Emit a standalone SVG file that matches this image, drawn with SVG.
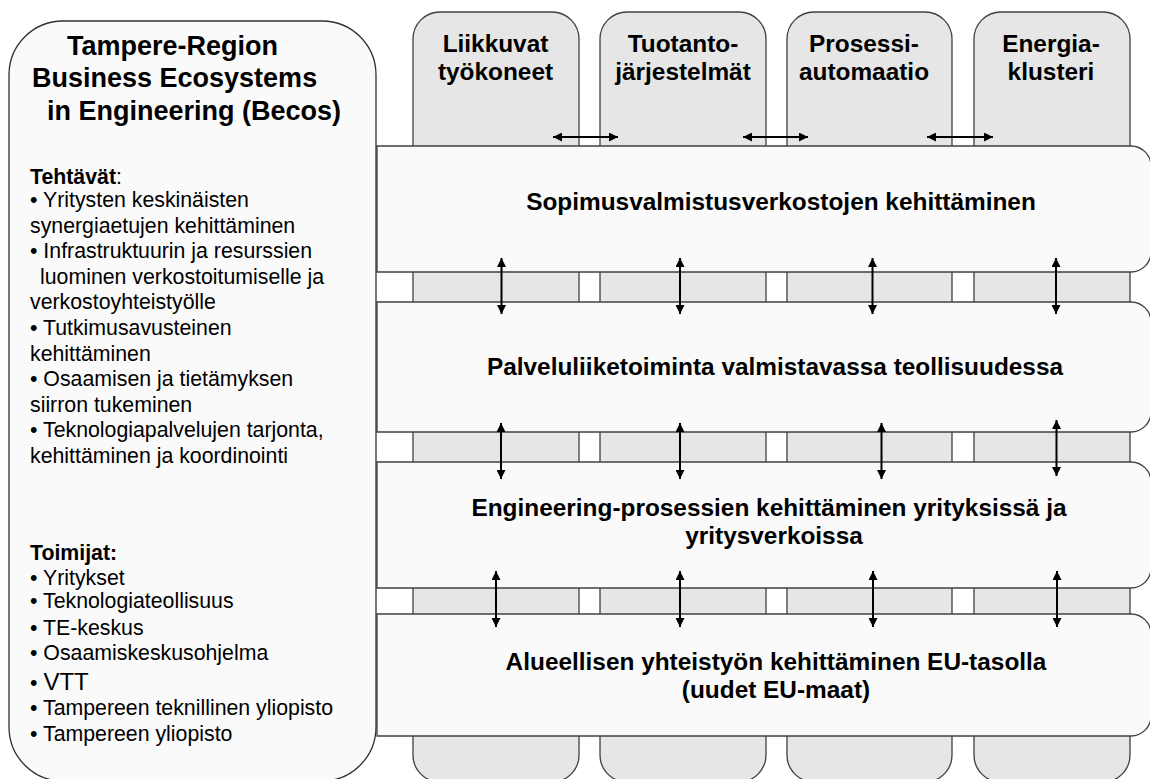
<svg xmlns="http://www.w3.org/2000/svg" width="1150" height="779" viewBox="0 0 1150 779">
<style>
.col{fill:#e6e6e6;stroke:#404040;stroke-width:1.3}
.band{fill:#fafafa;stroke:#404040;stroke-width:1.3}
.lbox{fill:#fafafa;stroke:#303030;stroke-width:1.3}
text{font-family:"Liberation Sans",Arial,sans-serif;fill:#000}
.hd{font-size:24.4px;font-weight:bold;text-anchor:middle}
.bt{font-size:24.4px;font-weight:bold;text-anchor:middle}
.tt{font-size:27px;font-weight:bold}
.lt{font-size:21.3px}
.b{font-weight:bold}
.arr{stroke:#000;stroke-width:2;fill:none;marker-start:url(#ah);marker-end:url(#ah)}
</style>
<defs>
<marker id="ah" viewBox="0 0 10 10" refX="10" refY="5" markerWidth="9" markerHeight="9" markerUnits="userSpaceOnUse" orient="auto-start-reverse">
<path d="M0,0 L10,5 L0,10 z" fill="#000"/>
</marker>
</defs>
<rect width="1150" height="779" fill="#fff"/>
<g id="col-liikkuvat">
<rect class="col" x="413" y="12" width="166" height="770" rx="27"/>
<text class="hd" x="495.5" y="52">Liikkuvat</text>
<text class="hd" x="495.5" y="80">työkoneet</text>
</g>
<g id="col-tuotanto">
<rect class="col" x="600" y="12" width="166" height="770" rx="27"/>
<text class="hd" x="683" y="52">Tuotanto-</text>
<text class="hd" x="683" y="80">järjestelmät</text>
</g>
<g id="col-prosessi">
<rect class="col" x="787" y="12" width="165" height="770" rx="27"/>
<text class="hd" x="864" y="52">Prosessi-</text>
<text class="hd" x="864" y="80">automaatio</text>
</g>
<g id="col-energia">
<rect class="col" x="974" y="12" width="156" height="770" rx="27"/>
<text class="hd" x="1051" y="52">Energia-</text>
<text class="hd" x="1051" y="80">klusteri</text>
</g>
<g id="band-sopimus">
<path class="band" d="M377,146 H1131 A20,20 0 0 1 1151,166 V252 A20,20 0 0 1 1131,272 H377 Z"/>
<text class="bt" x="781" y="210">Sopimusvalmistusverkostojen kehittäminen</text>
</g>
<g id="band-palvelu">
<path class="band" d="M377,302 H1131 A20,20 0 0 1 1151,322 V412 A20,20 0 0 1 1131,432 H377 Z"/>
<text class="bt" x="775" y="375">Palveluliiketoiminta valmistavassa teollisuudessa</text>
</g>
<g id="band-engineering">
<path class="band" d="M377,462 H1131 A20,20 0 0 1 1151,482 V568 A20,20 0 0 1 1131,588 H377 Z"/>
<text class="bt" x="769" y="516">Engineering-prosessien kehittäminen yrityksissä ja</text>
<text class="bt" x="774" y="544">yritysverkoissa</text>
</g>
<g id="band-alueellinen">
<path class="band" d="M377,614 H1131 A20,20 0 0 1 1151,634 V716 A20,20 0 0 1 1131,736 H377 Z"/>
<text class="bt" x="776" y="670">Alueellisen yhteistyön kehittäminen EU-tasolla</text>
<text class="bt" x="776" y="698">(uudet EU-maat)</text>
</g>
<g id="becos">
<rect class="lbox" x="9" y="21" width="367" height="760" rx="54"/>
<text class="tt" x="67" y="54.5">Tampere-Region</text>
<text class="tt" x="32" y="87">Business Ecosystems</text>
<text class="tt" x="47" y="119.5">in Engineering (Becos)</text>
<text class="lt" x="30" y="184"><tspan class="b">Tehtävät</tspan>:</text>
<text class="lt" x="30" y="207">• Yritysten keskinäisten</text>
<text class="lt" x="30" y="232.5">synergiaetujen kehittäminen</text>
<text class="lt" x="30" y="258">• Infrastruktuurin ja resurssien</text>
<text class="lt" x="40" y="283.5">luominen verkostoitumiselle ja</text>
<text class="lt" x="30" y="309">verkostoyhteistyölle</text>
<text class="lt" x="30" y="335">• Tutkimusavusteinen</text>
<text class="lt" x="30" y="360.5">kehittäminen</text>
<text class="lt" x="30" y="386">• Osaamisen ja tietämyksen</text>
<text class="lt" x="30" y="411.5">siirron tukeminen</text>
<text class="lt" x="30" y="437">• Teknologiapalvelujen tarjonta,</text>
<text class="lt" x="30" y="462.5">kehittäminen ja koordinointi</text>
<text class="lt b" x="30" y="560">Toimijat:</text>
<text class="lt" x="30" y="585">• Yritykset</text>
<text class="lt" x="30" y="608">• Teknologiateollisuus</text>
<text class="lt" x="30" y="635">• TE-keskus</text>
<text class="lt" x="30" y="660">• Osaamiskeskusohjelma</text>
<text class="lt" x="30" y="690"><tspan>• </tspan><tspan style="font-size:24px">VTT</tspan></text>
<text class="lt" x="30" y="715">• Tampereen teknillinen yliopisto</text>
<text class="lt" x="30" y="740.5">• Tampereen yliopisto</text>
</g>
<g id="connectors">
<line class="arr" x1="553" y1="137" x2="618" y2="137"/>
<line class="arr" x1="743" y1="137" x2="808" y2="137"/>
<line class="arr" x1="927" y1="137" x2="993" y2="137"/>
<line class="arr" x1="501.5" y1="258" x2="501.5" y2="314"/>
<line class="arr" x1="680" y1="258" x2="680" y2="314"/>
<line class="arr" x1="872.5" y1="258" x2="872.5" y2="314"/>
<line class="arr" x1="1056" y1="258" x2="1056" y2="314"/>
<line class="arr" x1="501" y1="423" x2="501" y2="479"/>
<line class="arr" x1="680" y1="423" x2="680" y2="479"/>
<line class="arr" x1="881.5" y1="423" x2="881.5" y2="479"/>
<line class="arr" x1="1056.5" y1="420" x2="1056.5" y2="476"/>
<line class="arr" x1="496" y1="571" x2="496" y2="627"/>
<line class="arr" x1="680" y1="571" x2="680" y2="627"/>
<line class="arr" x1="873" y1="571" x2="873" y2="627"/>
<line class="arr" x1="1057" y1="571" x2="1057" y2="627"/>
</g>
</svg>
